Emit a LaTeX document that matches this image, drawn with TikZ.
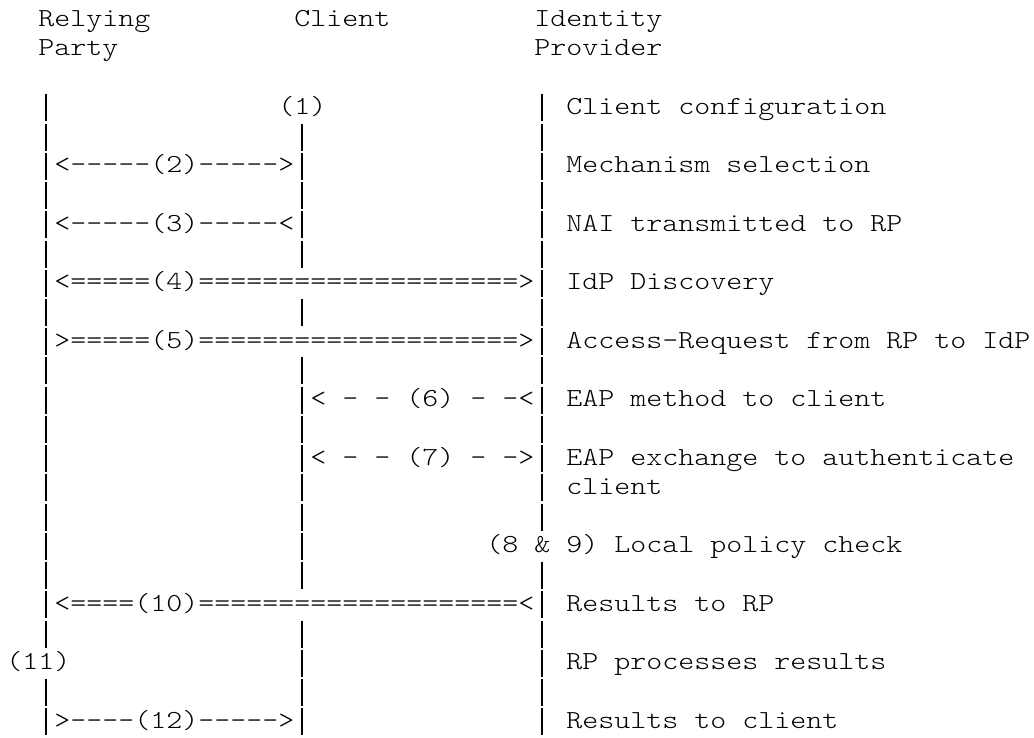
\documentclass[tikz,border=0pt]{standalone}
\usepackage{fontspec}
\setmonofont{lmmonolt10-regular.otf}[FakeStretch=1.1722]
\tikzset{
  ascii/.style={anchor=base west, inner sep=0pt, font=\ttfamily\fontsize{13}{14.6}\selectfont},
  lifeline/.style={line width=0.7pt, dash pattern=on 13.5pt off 1.115pt}
}

\begin{document}
\begin{tikzpicture}[x=8pt, y=-14.615pt]
\useasboundingbox (-0.375,-0.913) rectangle (64.25,24.335);

\node[ascii] (rp) at (2,0) {Relying};
\node[ascii] (party) at (2,1) {Party};
\node[ascii] (client) at (18,0) {Client};
\node[ascii] (idp) at (33,0) {Identity};
\node[ascii] (provider) at (33,1) {Provider};

\foreach \col/\from/\to in {2.5/3/21, 2.5/23/24, 18.5/4/8, 18.5/10/10, 18.5/12/19, 18.5/21/24, 33.5/3/17, 33.5/19/24}
  \draw[lifeline] (\col,\from-0.684) -- (\col,\to+0.24);

\node[ascii] (s1) at (17,3) {(1)};
\node[ascii] (m2) at (3,5) {<-----(2)----->};
\node[ascii] (m3) at (3,7) {<-----(3)-----<};
\node[ascii] (m4) at (3,9) {<=====(4)====================>};
\node[ascii] (m5) at (3,11) {>=====(5)====================>};
\node[ascii] (m6) at (19,13) {< - - (6) - -<};
\node[ascii] (m7) at (19,15) {< - - (7) - ->};
\node[ascii] (s8) at (30,18) {(8 \& 9)};
\node[ascii] (m10) at (3,20) {<====(10)====================<};
\node[ascii] (s11) at (0,22) {(11)};
\node[ascii] (m12) at (3,24) {>----(12)----->};

\node[ascii] (d1) at (35,3) {Client configuration};
\node[ascii] (d2) at (35,5) {Mechanism selection};
\node[ascii] (d3) at (35,7) {NAI transmitted to RP};
\node[ascii] (d4) at (35,9) {IdP Discovery};
\node[ascii] (d5) at (35,11) {Access-Request from RP to IdP};
\node[ascii] (d6) at (35,13) {EAP method to client};
\node[ascii] (d7) at (35,15) {EAP exchange to authenticate};
\node[ascii] (d7b) at (35,16) {client};
\node[ascii] (d8) at (38,18) {Local policy check};
\node[ascii] (d10) at (35,20) {Results to RP};
\node[ascii] (d11) at (35,22) {RP processes results};
\node[ascii] (d12) at (35,24) {Results to client};
\end{tikzpicture}
\end{document}
